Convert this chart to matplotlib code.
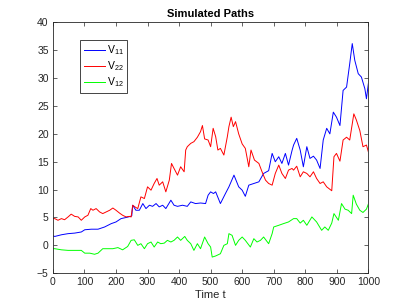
import numpy as np
import matplotlib
matplotlib.use('Agg')
import matplotlib.pyplot as plt

plt.rcParams['font.family'] = ['Liberation Sans', 'DejaVu Sans']
plt.rcParams['mathtext.fontset'] = 'custom'
plt.rcParams['mathtext.rm'] = 'Liberation Sans'

# values
t_v11 = [0, 6, 27, 48, 69, 90, 101, 122, 143, 164, 185, 200, 216, 232, 246, 250,
         253, 263, 274, 285, 295, 306, 316, 327, 337, 348, 358, 374, 384, 395, 411,
         426, 437, 452, 468, 484, 492, 500, 509, 516, 531, 547, 558, 574, 589, 600,
         610, 621, 637, 653, 668, 684, 695, 705, 716, 726, 737, 747, 758, 763, 773,
         784, 794, 805, 815, 826, 836, 847, 857, 868, 878, 889, 899, 910, 920, 931,
         941, 949, 957, 968, 978, 989, 994, 1000]
v11 = [1.7, 1.6, 1.9, 2.1, 2.2, 2.4, 2.8, 2.9, 2.9, 3.3, 3.9, 4.2, 4.8, 5.0, 5.2, 5.3,
       7.2, 6.3, 6.3, 7.5, 6.6, 7.2, 7.0, 7.5, 6.9, 7.2, 6.6, 8.1, 7.2, 7.0, 7.2,
       7.0, 7.8, 7.5, 7.6, 7.5, 9.0, 9.6, 9.3, 9.6, 7.5, 9.3, 10.5, 12.6, 10.5, 9.9,
       8.8, 10.8, 11.1, 11.4, 12.9, 13.4, 16.5, 15.0, 15.9, 14.7, 16.5, 14.4, 17.0, 18.0, 19.2,
       17.1, 14.1, 17.7, 15.6, 16.0, 15.3, 13.8, 18.9, 21.0, 20.0, 23.9, 23.0, 21.5, 27.8, 28.4,
       32.6, 36.2, 33.2, 30.8, 30.2, 28.1, 26.3, 29.0]

t_v22 = [0, 6, 16, 27, 37, 48, 58, 69, 80, 90, 101, 111, 120, 127, 137, 148, 158,
         169, 180, 190, 200, 211, 221, 232, 242, 248, 253, 260, 269, 279, 290, 300,
         311, 321, 330, 337, 348, 358, 369, 376, 384, 395, 405, 416, 421, 426, 437,
         447, 458, 468, 474, 481, 492, 500, 508, 516, 523, 531, 542, 553, 558, 565,
         572, 579, 589, 600, 610, 621, 628, 639, 653, 663, 674, 684, 695, 705, 716,
         726, 737, 747, 758, 763, 773, 784, 794, 805, 815, 826, 836, 847, 857, 868,
         884, 891, 899, 910, 920, 931, 941, 954, 962, 973, 983, 994, 1000]
v22 = [4.8, 4.8, 4.5, 4.8, 4.6, 5.1, 5.6, 5.2, 5.1, 4.5, 5.1, 5.4, 6.6, 6.3, 6.6, 6.0, 5.7,
       6.0, 6.3, 6.7, 6.3, 5.8, 5.4, 5.1, 5.2, 5.1, 7.2, 6.9, 6.6, 8.7, 8.4, 10.5,
       9.9, 11.1, 12.0, 10.8, 11.4, 9.6, 11.7, 14.7, 13.8, 12.6, 14.1, 13.2, 17.1, 17.7, 18.3,
       18.6, 19.4, 20.4, 21.5, 19.1, 18.9, 17.7, 21.0, 19.5, 17.1, 17.4, 16.2, 19.5, 21.3, 23.0,
       21.3, 22.2, 20.0, 18.2, 17.4, 14.1, 17.1, 15.3, 14.7, 13.2, 11.7, 11.1, 10.8, 12.9, 14.4,
       12.9, 12.0, 13.5, 13.8, 13.5, 14.2, 12.3, 13.2, 12.9, 12.3, 13.2, 12.0, 11.1, 11.4, 10.5,
       9.8, 15.9, 16.5, 15.1, 18.9, 19.4, 18.9, 23.6, 22.5, 20.6, 17.7, 18.0, 16.8]

t_v12 = [0, 6, 27, 48, 69, 90, 101, 117, 132, 143, 158, 174, 190, 206, 221, 237,
         248, 258, 269, 279, 290, 300, 311, 321, 332, 342, 353, 363, 374, 384, 395,
         405, 418, 426, 437, 447, 458, 468, 481, 492, 500, 505, 516, 531, 542, 553,
         558, 568, 579, 589, 600, 610, 626, 637, 647, 658, 668, 684, 695, 700, 716,
         731, 747, 763, 773, 784, 794, 805, 821, 836, 852, 862, 873, 884, 891, 905,
         915, 926, 936, 947, 952, 962, 973, 983, 994, 1000]
v12 = [-0.6, -0.6, -0.8, -0.9, -0.9, -0.9, -1.4, -1.4, -1.6, -1.4, -0.6, -0.6, -0.6, -0.4, -0.8, -0.2,
       0.9, 1.0, 0.0, 0.3, -0.6, 0.3, 0.6, -0.3, 0.6, 0.3, 0.4, 0.9, 0.6, 0.9, 1.5,
       0.9, 1.6, 0.9, 0.3, -0.9, 0.3, -0.6, 1.5, 0.3, -0.3, -2.1, -1.9, -1.5, 0.0, 0.3,
       2.1, 1.8, 0.0, 0.9, 1.5, 0.9, -0.3, 1.2, 0.6, 0.9, 1.5, 0.3, 2.1, 3.3, 3.6,
       3.9, 4.2, 4.8, 4.8, 4.0, 4.5, 3.6, 5.1, 4.2, 2.7, 3.3, 2.7, 4.0, 5.7, 4.5,
       7.5, 6.5, 6.3, 5.7, 9.0, 7.4, 6.3, 5.9, 6.5, 7.4]

labels = ['V$_{11}$', 'V$_{22}$', 'V$_{12}$']

fig = plt.figure(figsize=(4.07, 3.07), dpi=100)
ax = fig.add_axes([0.13, 0.11, 0.775, 0.817])

ax.plot(t_v11, v11, color=(0, 0, 1), lw=0.7, label=labels[0])
ax.plot(t_v22, v22, color=(1, 0, 0), lw=0.7, label=labels[1])
ax.plot(t_v12, v12, color=(0, 1, 0), lw=0.7, label=labels[2])

ax.set_xlim(0, 1000)
ax.set_ylim(-5, 40)
ax.set_xticks(np.arange(0, 1001, 100))
ax.set_yticks(np.arange(-5, 41, 5))
ax.tick_params(direction='in', top=True, right=True, labelsize=7.5,
               length=3, width=0.5, colors='0.15', pad=3)
for s in ax.spines.values():
    s.set_linewidth(0.6)
    s.set_color('0.15')

ax.set_xlabel('Time t', fontsize=8, color='0.15', labelpad=2)
ax.set_title('Simulated Paths', fontsize=8, fontweight='bold', pad=4)

leg = ax.legend(loc='upper left', bbox_to_anchor=(0.087, 0.93), borderaxespad=0,
                fontsize=7.5, handlelength=2.0, handletextpad=0.2,
                borderpad=0.35, fancybox=False, framealpha=1, labelspacing=0.2)
leg.get_frame().set_edgecolor('0.15')
leg.get_frame().set_linewidth(0.6)

fig.savefig('out.png', dpi=100)
